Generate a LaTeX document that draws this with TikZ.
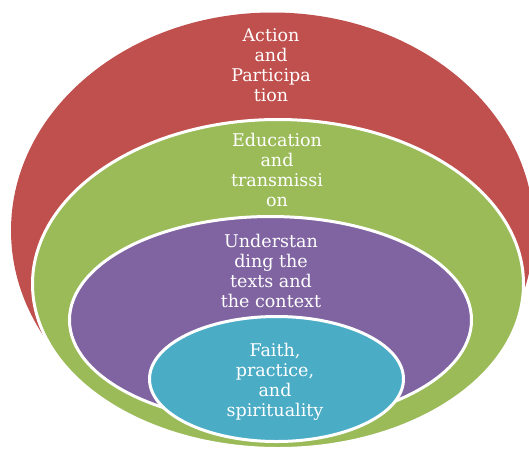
\documentclass[tikz,border=0pt]{standalone}
\usepackage{fontspec}
\setmainfont{DejaVu Serif}
\usepackage{tikz}
\usetikzlibrary{
shapes.geometric
}
\definecolor{LayerRed}{HTML}{C0504D}
\definecolor{LayerGreen}{HTML}{9BBB59}
\definecolor{LayerPurple}{HTML}{8064A2}
\definecolor{LayerTeal}{HTML}{4BACC6}
\tikzset{
layer/.style={ellipse, draw=white, line width=3pt, inner sep=0pt},
layerplain/.style={ellipse, draw=none, inner sep=0pt},
layertext/.style={text=white, align=center, inner sep=0pt,
  font=\fontsize{17.5}{20}\selectfont}
}

\begin{document}
\begin{tikzpicture}[x=1pt, y=-1pt]
\clip (0,0) rectangle (529,450);
\useasboundingbox (0,0) rectangle (529,450);

\node[layerplain, fill=LayerRed, minimum width=523pt, minimum height=436pt] (action) at (272.5,230.5) {};
\node[layer, fill=LayerGreen, minimum width=491pt, minimum height=329pt] (education) at (278,284) {};
\node[layer, fill=LayerPurple, minimum width=402pt, minimum height=207pt] (understanding) at (270.5,320) {};
\node[layer, fill=LayerTeal, minimum width=254pt, minimum height=125pt] (faith) at (276.5,379) {};

\node[layertext] (actiontext) at (271,65) {Action\\and\\Participa\\tion};
\node[layertext] (educationtext) at (277,170) {Education\\and\\transmissi\\on};
\node[layertext] (understandingtext) at (271,271) {Understan\\ding the\\texts and\\the context};
\node[layertext] (faithtext) at (275,381.5) {Faith,\\practice,\\and\\spirituality};
\end{tikzpicture}
\end{document}
